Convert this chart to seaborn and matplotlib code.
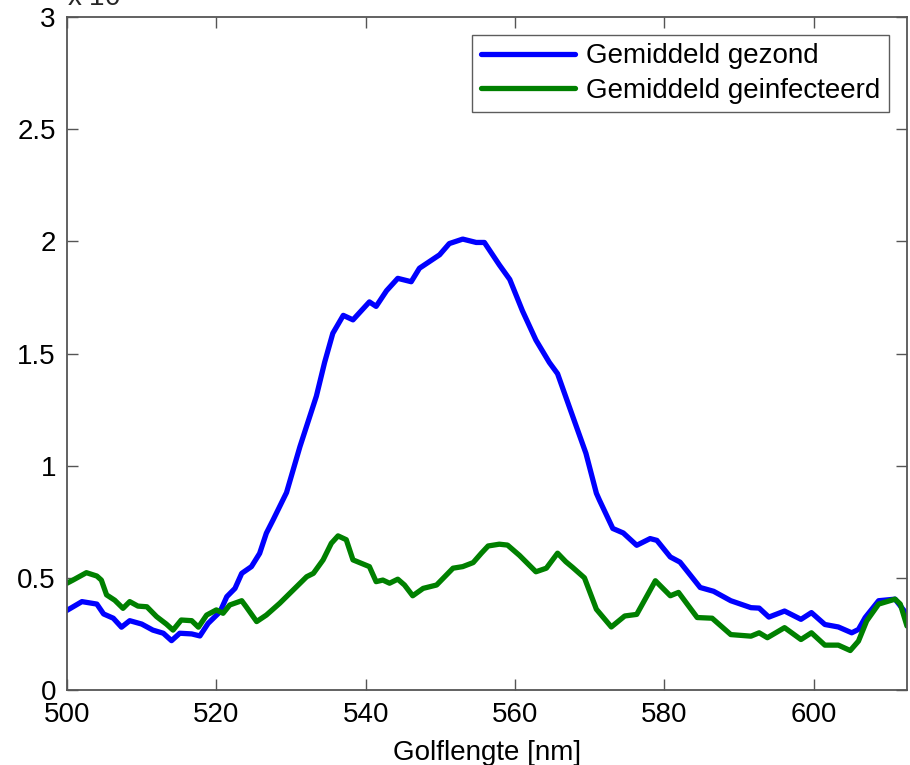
import matplotlib
matplotlib.use("Agg")
import matplotlib.pyplot as plt
import seaborn as sns
import pandas as pd

# ---- data (values in units of 10^-3) ----
wl_gezond = [500, 502, 504.0, 504.9, 506.2, 507.3, 508.4, 510.0, 511.5, 512.9, 514.0, 515.1,
             516.7, 517.8, 518.9, 520.5, 521.4, 522.5, 523.4, 524.7, 525.8, 526.7, 527.6,
             529.4, 531.2, 533.4, 534.5, 535.6, 537.0, 538.3, 540.5, 541.4, 542.8, 544.3,
             546.1, 547.2, 549.9, 551.2, 553.0, 554.8, 555.9, 557.9, 559.3, 561.0, 562.8,
             564.6, 565.7, 567.3, 569.5, 570.9, 571.3, 573.1, 574.5, 576.3, 578.1, 579.0,
             580.8, 582.1, 584.8, 586.6, 588.9, 591.6, 592.7, 594.0, 596.1, 598.3, 599.7,
             601.5, 603.3, 605.1, 606.0, 606.9, 608.7, 610.9, 612.5]
val_gezond = [0.355, 0.394, 0.383, 0.339, 0.32, 0.28, 0.309, 0.294, 0.267, 0.253, 0.22, 0.253,
              0.25, 0.241, 0.297, 0.349, 0.416, 0.453, 0.52, 0.55, 0.609, 0.699, 0.758,
              0.88, 1.085, 1.31, 1.46, 1.59, 1.67, 1.65, 1.73, 1.71, 1.78, 1.835,
              1.82, 1.88, 1.94, 1.99, 2.01, 1.995, 1.995, 1.895, 1.83, 1.69, 1.56,
              1.46, 1.41, 1.26, 1.055, 0.877, 0.847, 0.72, 0.70, 0.645, 0.675, 0.667,
              0.593, 0.57, 0.457, 0.44, 0.398, 0.367, 0.365, 0.325, 0.352, 0.315, 0.345,
              0.292, 0.281, 0.255, 0.27, 0.323, 0.398, 0.405, 0.337]

wl_geinf = [500, 500.8, 502.6, 504.0, 504.6, 505.3, 506.4, 507.5, 508.4, 509.5, 510.7, 512.0,
            513.3, 514.2, 515.3, 516.7, 517.6, 518.7, 520.0, 520.9, 521.8, 523.4, 524.0,
            525.4, 526.7, 528.5, 530.3, 532.1, 533.0, 534.3, 535.4, 536.3, 537.4, 538.3,
            540.5, 541.4, 542.3, 543.2, 544.3, 545.2, 546.3, 547.7, 549.5, 551.7, 553.0,
            554.4, 555.5, 556.4, 557.9, 559.0, 560.6, 562.8, 564.2, 565.7, 566.8, 567.7,
            569.3, 570.9, 572.9, 574.7, 576.3, 578.8, 580.8, 581.9, 584.4, 586.4, 588.9,
            591.6, 592.7, 593.8, 596.1, 598.3, 599.7, 601.5, 603.3, 604.9, 606.0, 607.1,
            608.7, 610.9, 611.6, 612.5]
val_geinf = [0.476, 0.49, 0.523, 0.508, 0.49, 0.424, 0.40, 0.364, 0.394, 0.374, 0.371, 0.327,
             0.294, 0.267, 0.312, 0.309, 0.28, 0.334, 0.357, 0.342, 0.379, 0.398, 0.371,
             0.305, 0.334, 0.387, 0.446, 0.505, 0.52, 0.58, 0.654, 0.687, 0.67, 0.58,
             0.55, 0.483, 0.49, 0.476, 0.494, 0.468, 0.42, 0.453, 0.468, 0.543, 0.55,
             0.568, 0.61, 0.642, 0.65, 0.646, 0.60, 0.527, 0.543, 0.61, 0.572, 0.547,
             0.50, 0.36, 0.281, 0.33, 0.337, 0.487, 0.42, 0.435, 0.323, 0.32, 0.247,
             0.24, 0.255, 0.233, 0.278, 0.225, 0.255, 0.2, 0.2, 0.176, 0.218, 0.308,
             0.383, 0.405, 0.383, 0.285]

labels = ["Gemiddeld gezond", "Gemiddeld geinfecteerd"]
x_ticks = [500, 520, 540, 560, 580, 600]
y_ticks = [0, 0.5, 1, 1.5, 2, 2.5, 3]
y_ticklabels = ["0", "0.5", "1", "1.5", "2", "2.5", "3"]

sns.set_theme(style="white")
plt.rcParams["font.family"] = ["Liberation Sans", "DejaVu Sans"]

FS = 20

fig = plt.figure(figsize=(9.1, 7.65), dpi=100)
ax = fig.add_axes([67 / 910, 75 / 765, 840 / 910, 673 / 765])

df1 = pd.DataFrame({"wl": wl_gezond, "val": val_gezond})
df2 = pd.DataFrame({"wl": wl_geinf, "val": val_geinf})
sns.lineplot(data=df1, x="wl", y="val", ax=ax, color=(0, 0, 1), linewidth=3.8,
             label=labels[0], sort=False)
sns.lineplot(data=df2, x="wl", y="val", ax=ax, color=(0, 0.5, 0), linewidth=3.8,
             label=labels[1], sort=False)

ax.set_xlim(500, 612.5)
ax.set_ylim(0, 3)
ax.set_xticks(x_ticks)
ax.set_yticks(y_ticks)
ax.set_yticklabels(y_ticklabels)
ax.set_xlabel("Golflengte [nm]", fontsize=FS, labelpad=8, color="black")
ax.set_ylabel("")

spine_col = "#555555"
for s in ax.spines.values():
    s.set_visible(True)
    s.set_color(spine_col)
    s.set_linewidth(1.3)
ax.tick_params(axis="both", direction="in", length=8, width=1.0, color=spine_col,
               labelsize=FS, labelcolor="black", top=True, right=True, bottom=True, left=True,
               pad=8)
ax.tick_params(axis="x", pad=9)

leg = ax.legend(loc="upper right", fontsize=FS, frameon=True, fancybox=False,
                handlelength=3.4, handletextpad=0.4, borderpad=0.3, labelspacing=0.3,
                borderaxespad=0.65)
leg.get_frame().set_edgecolor("#333333")
leg.get_frame().set_linewidth(1.0)
for t in leg.get_texts():
    t.set_color("black")

fig.text(67 / 910, 1 - 6 / 765, r"x 10$^{-3}$", fontsize=FS, ha="left", va="baseline")

fig.savefig("out.png", dpi=100, facecolor="white")
